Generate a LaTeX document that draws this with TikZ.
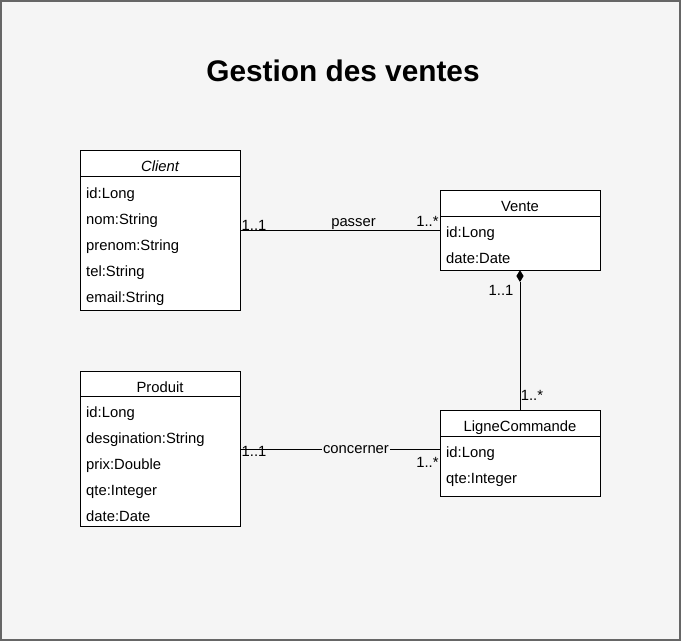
\documentclass[tikz,border=0pt]{standalone}
\usepackage{fontspec}
\setmainfont{Liberation Sans}
\definecolor{bg}{HTML}{F5F5F5}
\definecolor{frame}{HTML}{666666}
\begin{document}
\begin{tikzpicture}[x=1pt,y=-1pt,
  txt/.style={inner sep=0pt,font=\fontsize{14.8}{17}\selectfont},
  attr/.style={txt,anchor=base west},
  hdr/.style={txt,anchor=base},
  mult/.style={txt,anchor=base},
  box/.style={draw=black,fill=white,line width=0.9pt},
  conn/.style={draw=black,line width=0.9pt},
]
\useasboundingbox (0,0) rectangle (681,641);
\draw[fill=bg,draw=frame,line width=1.6pt] (0.8,0.8) rectangle (680.2,640.2);

\node[inner sep=0pt,anchor=base,font=\fontsize{29.8}{34}\selectfont\bfseries] (title) at (343,81.7) {Gestion des ventes};

% Client
\draw[box] (80,150.3) rectangle (240,310.7);
\draw[conn] (80,176) -- (240,176);
\coordinate (clientE) at (240,230.5);
\node[hdr,font=\fontsize{14.8}{17}\selectfont\itshape] (client) at (160,171) {Client};
\node[attr] (c1) at (86,198) {id:Long};
\node[attr] (c2) at (86,224) {nom:String};
\node[attr] (c3) at (86,250) {prenom:String};
\node[attr] (c4) at (86,276) {tel:String};
\node[attr] (c5) at (86,302) {email:String};

% Vente
\draw[box] (440,190.7) rectangle (600,270);
\draw[conn] (440,216.5) -- (600,216.5);
\coordinate (venteW) at (440,230.5);
\coordinate (venteS) at (520,270);
\node[hdr] (vente) at (520,211) {Vente};
\node[attr] (v1) at (446,237.5) {id:Long};
\node[attr] (v2) at (446,263.3) {date:Date};

% Produit
\draw[box] (80,371.5) rectangle (240,526.7);
\draw[conn] (80,396.5) -- (240,396.5);
\coordinate (produitE) at (240,449.3);
\node[hdr] (produit) at (160,392) {Produit};
\node[attr] (p1) at (86,417.8) {id:Long};
\node[attr] (p2) at (86,443.8) {desgination:String};
\node[attr] (p3) at (86,469.8) {prix:Double};
\node[attr] (p4) at (86,495.8) {qte:Integer};
\node[attr] (p5) at (86,521.6) {date:Date};

% LigneCommande
\draw[box] (440,410.7) rectangle (600,496.7);
\draw[conn] (440,436.3) -- (600,436.3);
\coordinate (ligneW) at (440,449.3);
\coordinate (ligneN) at (520,410.7);
\node[hdr] (ligne) at (520,431.7) {LigneCommande};
\node[attr] (l1) at (446,457.3) {id:Long};
\node[attr] (l2) at (446,483.3) {qte:Integer};

% Client -- Vente
\draw[conn] (clientE) -- (venteW);
\node[mult] (m1) at (254,230.8) {1..1};
\node[mult] (passer) at (353.5,226.5) {passer};
\node[mult] (m2) at (427.5,226.5) {1..*};

% Vente -- LigneCommande (composition)
\coordinate (dtip) at (520,282);
\draw[conn] (dtip) -- (ligneN);
\fill[black] (venteS) -- (523.6,276) -- (dtip) -- (516.4,276) -- cycle;
\node[mult] (m3) at (501,295.5) {1..1};
\node[mult] (m4) at (532,400.5) {1..*};

% Produit -- LigneCommande
\draw[conn] (produitE) -- (ligneW);
\node[mult,fill=bg,inner xsep=1pt,inner ysep=2pt] (concerner) at (356,453) {concerner};
\node[mult] (m5) at (254,456.7) {1..1};
\node[mult] (m6) at (427.5,467.5) {1..*};
\end{tikzpicture}
\end{document}
